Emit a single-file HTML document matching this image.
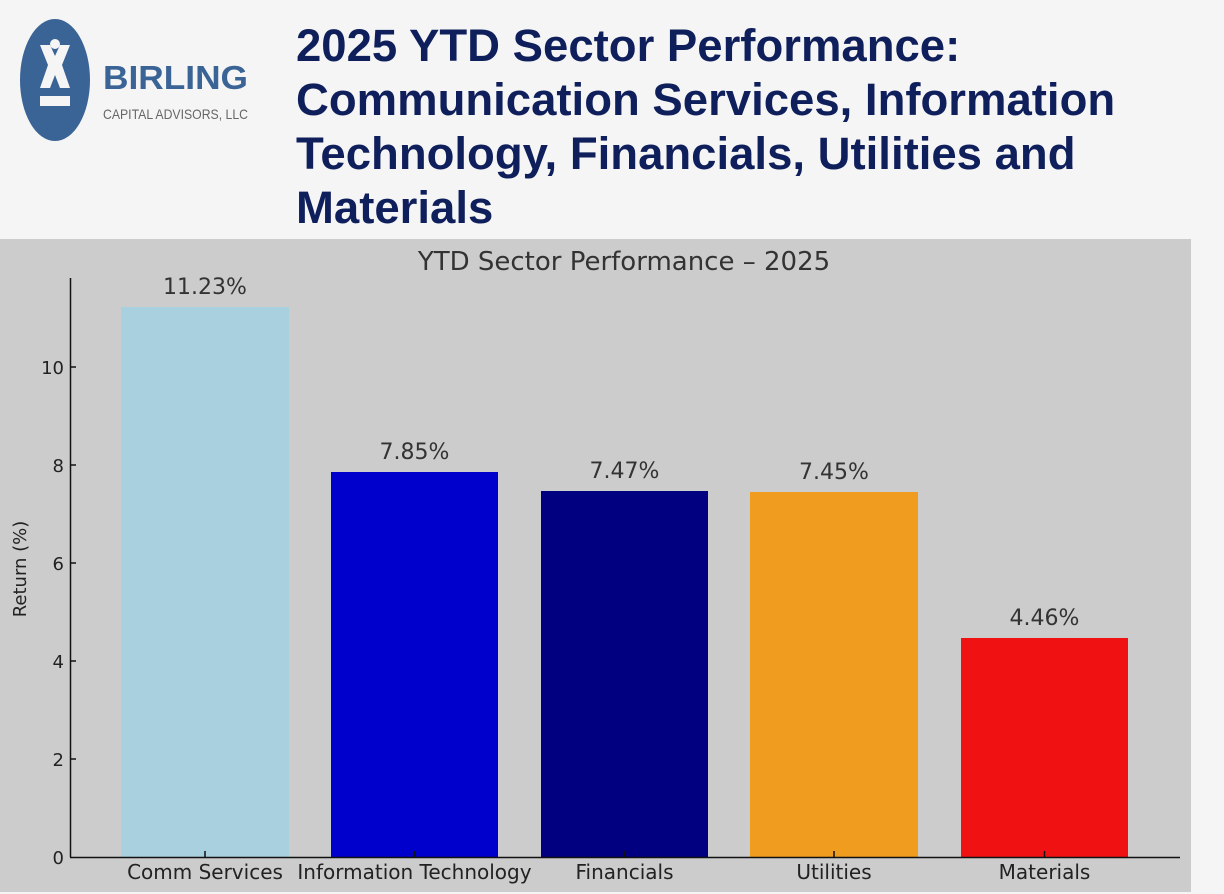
<!DOCTYPE html>
<html><head><meta charset="utf-8"><style>
body{margin:0;width:1224px;height:894px;background:#f5f5f5;position:relative;overflow:hidden;font-family:"DejaVu Sans","Liberation Sans",sans-serif}
.title{position:absolute;left:296px;top:19px;font-family:"Liberation Sans",sans-serif;font-weight:bold;font-size:45.5px;line-height:54px;color:#0f1f5c}
</style></head><body>
<svg style="position:absolute;left:0;top:0" width="300" height="240">
<ellipse cx="55" cy="80" rx="35" ry="61" fill="#3a6396"/>
<path d="M40 45 L50 45 L55 56 L60 45 L70 45 L62 65 L70 88 L60 88 L55 75 L50 88 L40 88 L48 65 Z" fill="#f5f5f5"/>
<circle cx="55" cy="44" r="5" fill="#f5f5f5"/>
<rect x="40" y="96" width="30" height="10" fill="#f5f5f5"/>
<text x="103" y="89" font-family="Liberation Sans,sans-serif" font-weight="bold" font-size="33" fill="#3a6396" textLength="145" lengthAdjust="spacingAndGlyphs">BIRLING</text>
<text x="103" y="119" font-family="Liberation Sans,sans-serif" font-size="14" fill="#666" textLength="145" lengthAdjust="spacingAndGlyphs">CAPITAL ADVISORS, LLC</text>
</svg>
<div class="title">2025 YTD Sector Performance:<br>Communication Services, Information<br>Technology, Financials, Utilities and<br>Materials</div>
<svg style="position:absolute;left:0;top:0" width="1224" height="894">
<rect x="0" y="239" width="1191" height="653" fill="#cccccc"/>
<text x="624" y="270" text-anchor="middle" font-size="26" fill="#333">YTD Sector Performance – 2025</text>
<g fill="#333" font-size="22" text-anchor="middle">
<rect x="121" y="307" width="168" height="550" fill="#a8d0de"/>
<rect x="331" y="472" width="167" height="385" fill="#0000cc"/>
<rect x="541" y="491" width="167" height="366" fill="#000080"/>
<rect x="750" y="492" width="168" height="365" fill="#f09d1f"/>
<rect x="961" y="638" width="167" height="219" fill="#f01212"/>
<text x="205" y="294">11.23%</text>
<text x="414.5" y="459">7.85%</text>
<text x="624.5" y="478">7.47%</text>
<text x="834" y="479">7.45%</text>
<text x="1044.5" y="625">4.46%</text>
</g>
<g stroke="#111" stroke-width="1.5">
<line x1="70.5" y1="278" x2="70.5" y2="857"/>
<line x1="70" y1="857.5" x2="1180" y2="857.5"/>
<line x1="70" y1="367" x2="76" y2="367"/><line x1="70" y1="465" x2="76" y2="465"/>
<line x1="70" y1="563" x2="76" y2="563"/><line x1="70" y1="661" x2="76" y2="661"/>
<line x1="70" y1="759" x2="76" y2="759"/>
<line x1="205" y1="851" x2="205" y2="857"/><line x1="414.5" y1="851" x2="414.5" y2="857"/>
<line x1="624.5" y1="851" x2="624.5" y2="857"/><line x1="834" y1="851" x2="834" y2="857"/>
<line x1="1044.5" y1="851" x2="1044.5" y2="857"/>
</g>
<g fill="#222" font-size="18" text-anchor="end">
<text x="64" y="374">10</text><text x="64" y="472">8</text><text x="64" y="570">6</text>
<text x="64" y="668">4</text><text x="64" y="766">2</text><text x="64" y="864">0</text>
</g>
<text transform="translate(26,569) rotate(-90)" text-anchor="middle" font-size="18" fill="#222">Return (%)</text>
<g fill="#222" font-size="20" text-anchor="middle">
<text x="205" y="879">Comm Services</text>
<text x="414.5" y="879">Information Technology</text>
<text x="624.5" y="879">Financials</text>
<text x="834" y="879">Utilities</text>
<text x="1044.5" y="879">Materials</text>
</g>
</svg>
</body></html>
